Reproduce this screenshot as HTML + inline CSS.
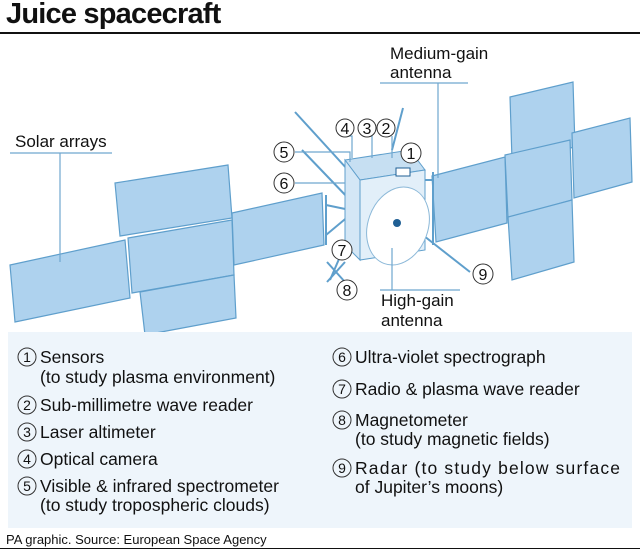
<!DOCTYPE html>
<html><head><meta charset="utf-8"><style>
body{margin:0;width:640px;height:553px;background:#fff;font-family:"Liberation Sans",sans-serif;overflow:hidden;position:relative}
.t{position:absolute;color:#111}
</style></head><body>
<div class="t" style="left:6px;top:-2px;font-size:29px;font-weight:bold;letter-spacing:-0.8px">Juice spacecraft</div>
<div style="position:absolute;left:0;top:32px;width:640px;height:2px;background:#111"></div>
<svg width="640" height="553" style="position:absolute;left:0;top:0" font-family="Liberation Sans, sans-serif">
<g fill="#aed2ee" stroke="#5f9fcc" stroke-width="1.2">
<polygon points="10,265 125,240 130,298 15,322"/>
<polygon points="115,183 228,165 232,218 120,236"/>
<polygon points="128,238 232,220 234,275 132,293"/>
<polygon points="140,292 234,275 236,318 145,335"/>
<polygon points="232,213 322,193 324,245 234,265"/>
<polygon points="432,176 505,157 507,223 436,242"/>
<polygon points="510,97 573,82 575,147 512,160"/>
<polygon points="505,155 570,140 572,200 508,218"/>
<polygon points="572,133 630,118 632,182 574,198"/>
<polygon points="508,217 572,200 574,262 512,280"/>
</g>
<g stroke="#5f9fcc" stroke-width="2" fill="none">
<line x1="326" y1="195" x2="326" y2="245"/><line x1="326" y1="205" x2="350" y2="210"/><line x1="326" y1="235" x2="350" y2="215"/>
<line x1="433" y1="172" x2="433" y2="245"/><line x1="410" y1="180" x2="433" y2="180"/>
<line x1="295" y1="112" x2="348" y2="170"/><line x1="302" y1="150" x2="350" y2="200"/>
<line x1="403" y1="108" x2="392" y2="150"/>
<line x1="410" y1="225" x2="470" y2="272"/>
<line x1="345" y1="245" x2="330" y2="280"/>
<line x1="327" y1="262" x2="345" y2="282"/><line x1="327" y1="282" x2="345" y2="262"/>
</g>
<polygon points="345,160 410,150 425,170 360,180" fill="#c6dff2" stroke="#5f9fcc"/>
<polygon points="345,160 360,180 360,260 345,245" fill="#d4e7f6" stroke="#5f9fcc"/>
<polygon points="360,180 425,170 425,250 360,260" fill="#e2eff9" stroke="#5f9fcc"/>
<ellipse cx="398" cy="226" rx="30" ry="40" transform="rotate(20 398 226)" fill="#fff" stroke="#8bb8d8"/>
<circle cx="397" cy="223" r="4" fill="#1f5f94"/>
<rect x="396" y="168" width="14" height="8" fill="#fff" stroke="#1f5f94"/>
<g stroke="#6fa7cf" fill="none" stroke-width="1.2">
<polyline points="10,153 112,153"/><line x1="60" y1="153" x2="60" y2="262"/>
<line x1="380" y1="83" x2="468" y2="83"/><line x1="438" y1="83" x2="438" y2="178"/>
<line x1="380" y1="290" x2="460" y2="290"/><line x1="392" y1="290" x2="392" y2="248"/>
<polyline points="295,152 350,152 350,162"/><polyline points="295,183 345,183"/>
<polyline points="345,136 352,136 352,158"/><polyline points="369,136 372,136 372,158"/>
<polyline points="392,136 392,158"/>
</g>
<g fill="#fff" stroke="#333" stroke-width="1">
<circle cx="284" cy="152" r="10"/><circle cx="284" cy="183" r="10"/><circle cx="345" cy="128" r="9"/><circle cx="367" cy="128" r="9"/><circle cx="386" cy="128" r="9"/><circle cx="411" cy="153" r="10"/><circle cx="342" cy="250" r="10"/><circle cx="347" cy="290" r="10"/><circle cx="483" cy="274" r="10"/>
</g>
<g font-size="16" text-anchor="middle" fill="#111">
<text x="284" y="158">5</text><text x="284" y="189">6</text><text x="345" y="134">4</text><text x="367" y="134">3</text><text x="386" y="134">2</text><text x="411" y="159">1</text><text x="342" y="256">7</text><text x="347" y="296">8</text><text x="483" y="280">9</text>
</g>
<g font-size="17" fill="#111">
<text x="15" y="147">Solar arrays</text>
<text x="390" y="59">Medium-gain</text><text x="390" y="78">antenna</text>
<text x="381" y="306">High-gain</text><text x="381" y="326">antenna</text>
</g>
</svg>
<div style="position:absolute;left:8px;top:332px;width:624px;height:196px;background:#eef5fb"></div>
<svg width="640" height="553" style="position:absolute;left:0;top:0" font-family="Liberation Sans, sans-serif" font-size="17.5" fill="#111">
<g fill="none" stroke="#333"><circle cx="27" cy="357" r="9"/><circle cx="27" cy="405" r="9"/><circle cx="27" cy="432" r="9"/><circle cx="27" cy="459" r="9"/><circle cx="27" cy="486" r="9"/><circle cx="342" cy="357" r="9"/><circle cx="342" cy="389" r="9"/><circle cx="342" cy="420" r="9"/><circle cx="342" cy="468" r="9"/></g>
<g font-size="14" text-anchor="middle"><text x="27" y="362">1</text><text x="27" y="410">2</text><text x="27" y="437">3</text><text x="27" y="464">4</text><text x="27" y="491">5</text><text x="342" y="362">6</text><text x="342" y="394">7</text><text x="342" y="425">8</text><text x="342" y="473">9</text></g>
<text x="40" y="363">Sensors</text><text x="40" y="383">(to study plasma environment)</text>
<text x="40" y="411">Sub-millimetre wave reader</text>
<text x="40" y="438">Laser altimeter</text>
<text x="40" y="465">Optical camera</text>
<text x="40" y="492">Visible &amp; infrared spectrometer</text><text x="40" y="511">(to study tropospheric clouds)</text>
<text x="355" y="363">Ultra-violet spectrograph</text>
<text x="355" y="395">Radio &amp; plasma wave reader</text>
<text x="355" y="426">Magnetometer</text><text x="355" y="445">(to study magnetic fields)</text>
<text x="355" y="474" textLength="265">Radar (to study below surface</text><text x="355" y="493">of Jupiter’s moons)</text>
</svg>
<div style="position:absolute;left:0;top:548px;width:640px;height:1px;background:#111"></div>
<div class="t" style="left:6px;top:532px;font-size:13px">PA graphic. Source: European Space Agency</div>
</body></html>
